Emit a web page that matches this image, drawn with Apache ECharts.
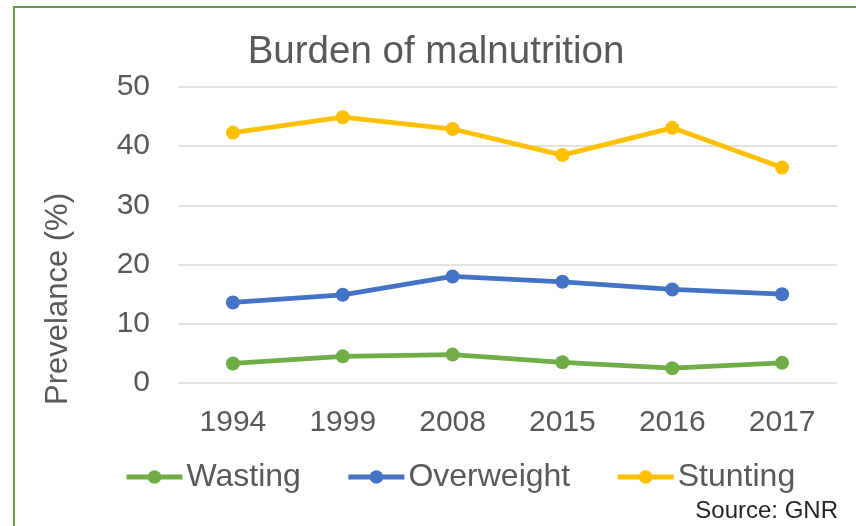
<!DOCTYPE html>
<html><head><meta charset="utf-8">
<script src="https://cdn.jsdelivr.net/npm/echarts@6/dist/echarts.min.js"></script>
<style>html,body{margin:0;padding:0;background:#fff}#c{width:856px;height:526px}</style>
</head><body><div id="c"></div>
<script>
const categories = ['1994','1999','2008','2015','2016','2017'];
const wasting = [3.3, 4.5, 4.8, 3.5, 2.5, 3.4];
const overweight = [13.6, 14.9, 18.0, 17.1, 15.8, 15.0];
const stunting = [42.3, 44.9, 42.9, 38.5, 43.1, 36.4];
const seriesNames = ['Wasting','Overweight','Stunting'];

const FONT = '"Liberation Sans", Arial, sans-serif';
const TXT = '#595959';
const chart = echarts.init(document.getElementById('c'));
function line(name, data, color){
  return {name, type:'line', data, symbol:'circle', symbolSize:14,
    lineStyle:{width:4.75, color}, itemStyle:{color}, z:3};
}
chart.setOption({
  animation:false,
  title:{text:'Burden of malnutrition', left:431, top:28, textAlign:'center',
    textStyle:{fontFamily:FONT, fontSize:38.5, fontWeight:'normal', color:TXT}},
  grid:{left:178, right:19, top:87, bottom:143},
  legend:{data:seriesNames, left:119, top:456, itemWidth:56, itemHeight:17, itemGap:45,
    lineStyle:{width:5},
    textStyle:{fontFamily:FONT, fontSize:32, color:TXT, padding:[0,0,0,-1]}},
  xAxis:{type:'category', data:categories, boundaryGap:true,
    axisLine:{show:false}, axisTick:{show:false},
    axisLabel:{fontFamily:FONT, fontSize:30, color:TXT, margin:25}},
  yAxis:{type:'value', min:0, max:50, interval:10,
    name:'Prevelance (%)', nameLocation:'middle', nameGap:104,
    nameTextStyle:{fontFamily:FONT, fontSize:31, color:TXT, padding:[0,128,0,0]},
    axisLabel:{fontFamily:FONT, fontSize:30, color:TXT, margin:28},
    splitLine:{lineStyle:{color:'#D9D9D9', width:1.5}}},
  series:[line(seriesNames[0], wasting, '#70AD47'), line(seriesNames[1], overweight, '#4472C4'), line(seriesNames[2], stunting, '#FFC000')],
  graphic:[
    {type:'rect', shape:{x:14, y:7, width:900, height:600}, style:{fill:null, stroke:'#6A9A45', lineWidth:2}},
    {type:'text', right:18, top:499, style:{text:'Source: GNR', fontFamily:FONT, fontSize:24, fill:'#262626'}}
  ]
});
</script></body></html>
